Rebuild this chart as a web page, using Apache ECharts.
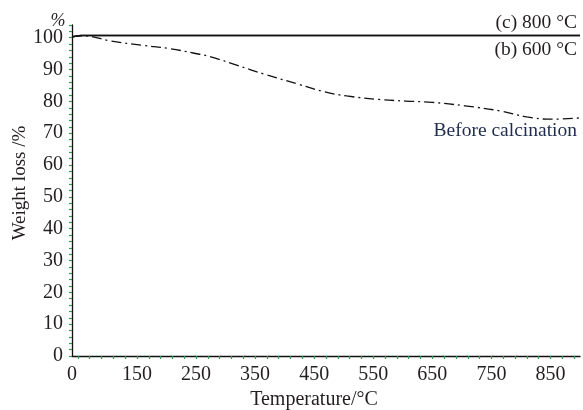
<!DOCTYPE html>
<html>
<head>
<meta charset="utf-8">
<script src="https://cdn.jsdelivr.net/npm/echarts@6/dist/echarts.min.js"></script>
<style>
  html, body { margin: 0; padding: 0; background: #fff; }
  #tgaChart { width: 583px; height: 410px; }
</style>
</head>
<body>
<div id="tgaChart"></div>
<script>
// temperature (°C)
const tempBefore = [40, 60, 105, 160, 205, 245, 275, 320, 365, 425, 465, 505, 560, 605, 650, 705, 765, 810, 850, 900]
const weightBefore = [100.3, 100.6, 99.0, 97.6, 96.6, 95.2, 94.0, 91.3, 88.6, 85.3, 83.1, 81.7, 80.6, 80.1, 79.7, 78.6, 77.0, 75.1, 74.4, 74.8]
const tempCalcined = [40, 55, 900]
const weight600 = [100.3, 100.7, 100.7]
const weight800 = [100.3, 100.7, 100.7]

const xLabelValues = [40, 150, 250, 350, 450, 550, 650, 750, 850]
const yLabelValues = [0, 10, 20, 30, 40, 50, 60, 70, 80, 90, 100]

// small green ticks: every 20 °C from 50, every 2 % on y
const xMinorTicks = []
for (let v = 50; v <= 890; v += 20) xMinorTicks.push(v)
const yMinorTicks = []
for (let v = 0; v <= 104; v += 2) yMinorTicks.push(v)

const pairs = (xs, ys) => xs.map((x, i) => [x, ys[i]])

const font = '"Liberation Serif", "DejaVu Serif", serif'
const chart = echarts.init(document.getElementById('tgaChart'))

chart.setOption({
  animation: false,
  grid: { left: 72, right: 3, top: 25, bottom: 54 },
  xAxis: {
    type: 'value',
    min: 40,
    max: 900,
    axisLine: { lineStyle: { color: '#111', width: 1.3 } },
    axisTick: {
      show: true,
      customValues: xMinorTicks,
      length: 3,
      lineStyle: { color: '#2e9a4e', width: 1.2 }
    },
    axisLabel: {
      customValues: xLabelValues,
      margin: 9,
      color: '#231f20',
      fontFamily: font,
      fontSize: 20,
      formatter: v => (v === 40 ? '0' : String(v))
    },
    splitLine: { show: false }
  },
  yAxis: {
    type: 'value',
    min: 0,
    max: 104,
    axisLine: { show: true, lineStyle: { color: '#111', width: 1.3 } },
    axisTick: {
      show: true,
      customValues: yMinorTicks,
      length: 3,
      lineStyle: { color: '#2e9a4e', width: 1.2 }
    },
    axisLabel: {
      customValues: yLabelValues,
      margin: 9,
      color: '#231f20',
      fontFamily: font,
      fontSize: 20
    },
    splitLine: { show: false }
  },
  graphic: [
    { type: 'text', x: 58, y: 21, style: { text: '%', font: 'italic 18px ' + font, fill: '#231f20', align: 'center', verticalAlign: 'middle' } },
    { type: 'text', x: 20, y: 183, rotation: Math.PI / 2, style: { text: 'Weight loss /%', font: '19px ' + font, fill: '#231f20', align: 'center', verticalAlign: 'middle' } },
    { type: 'text', x: 314, y: 400, style: { text: 'Temperature/°C', font: '20px ' + font, fill: '#231f20', align: 'center', verticalAlign: 'middle' } },
    { type: 'text', x: 577, y: 23, style: { text: '(c) 800 °C', font: '19.5px ' + font, fill: '#231f20', align: 'right', verticalAlign: 'middle' } },
    { type: 'text', x: 577, y: 50, style: { text: '(b) 600 °C', font: '19.5px ' + font, fill: '#231f20', align: 'right', verticalAlign: 'middle' } },
    { type: 'text', x: 577, y: 131, style: { text: 'Before calcination', font: '19.5px ' + font, fill: '#1f2c4d', align: 'right', verticalAlign: 'middle' } }
  ],
  series: [
    {
      name: '(c) 800 °C',
      type: 'line',
      data: pairs(tempCalcined, weight800),
      showSymbol: false,
      lineStyle: { color: '#111', width: 1.5 }
    },
    {
      name: '(b) 600 °C',
      type: 'line',
      data: pairs(tempCalcined, weight600),
      showSymbol: false,
      lineStyle: { color: '#111', width: 1.5 }
    },
    {
      name: 'Before calcination',
      type: 'line',
      data: pairs(tempBefore, weightBefore),
      smooth: 0.4,
      showSymbol: false,
      lineStyle: { color: '#111', width: 1.3, type: [10, 4, 2, 4] }
    }
  ]
})
</script>
</body>
</html>
